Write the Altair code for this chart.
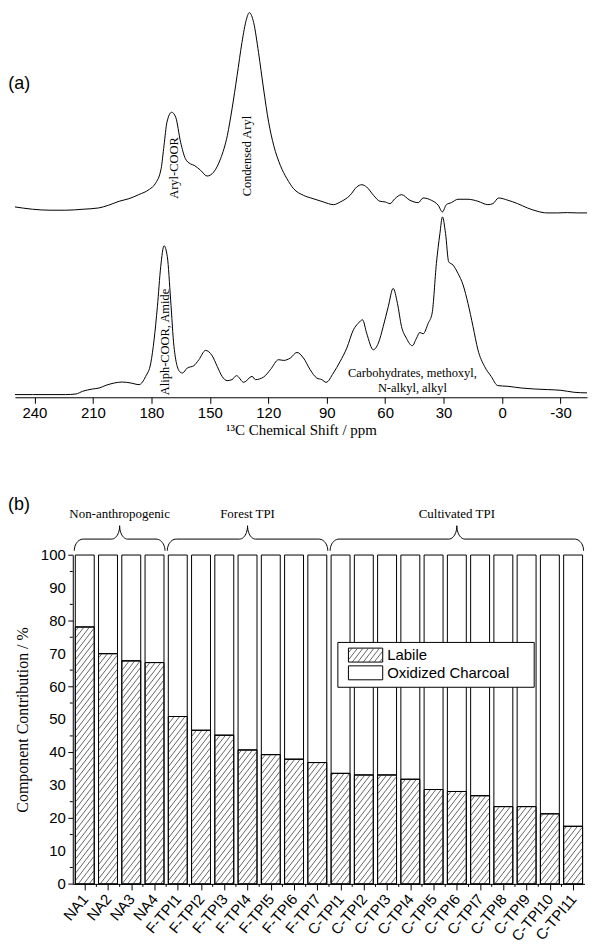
import json
import math
import altair as alt
import pandas as pd

# ---------------- Panel (a): 13C NMR spectra ----------------
ppm_top = [250, 241, 232, 224, 215, 207, 202, 196.5, 191.5, 186.5,
           181, 178, 175, 173.5, 172, 169.6, 167.5, 165, 162.5, 160,
           158, 154.7, 151.4, 148, 144.5, 141, 138.6, 136, 133.5, 131.2,
           129.7, 127.5, 125, 122.4, 119.8, 117.2, 113.8, 110.4, 107, 102,
           97, 91.7, 86.5, 83, 78, 74.6, 72, 69.5, 66, 62.7,
           60, 57.5, 55, 51.6, 47.3, 43, 40.5, 36.3, 32.8, 30.6,
           28.6, 26, 22.6, 17.5, 12.4, 7.3, 4.7, 1.8, -3, -8,
           -13, -18, -23, -28.5, -33.5, -38.7, -43.6]
int_top = [7, 4.7, 3.7, 3.7, 4.7, 6, 8.7, 12.7, 15.3, 19.3,
           24.7, 30.3, 45.3, 68.7, 92, 102, 97, 72, 55.3, 50.3,
           48.7, 43.7, 38, 42, 55.3, 78.7, 105.3, 138.7, 172, 195.3,
           202, 192, 162, 125.3, 92, 68.7, 48.7, 35.3, 25.3, 18.7,
           15.3, 12, 9.3, 12, 18.7, 27, 29.3, 27, 18.7, 12.7,
           12, 10.3, 15.3, 19.3, 13.7, 11.3, 16, 13.7, 8.7, 2,
           9.3, 11.3, 14.7, 14.7, 12.7, 9.3, 10.3, 16, 13.7, 10.3,
           6, 2.7, 1, 1, 1.3, 1, 1]
ppm_bottom = [250, 241, 232, 224, 218.7, 215.3, 210.2, 206.8, 203.3, 199.1,
              194.8, 190.5, 186.3, 182.9, 180.3, 178.6, 176.9, 175.2, 173.5, 171.8,
              170.1, 168.4, 165.6, 164.1, 161.6, 158.2, 155.6, 152.2, 148.8, 146.2,
              143.7, 141.1, 138.6, 136.3, 132.6, 128.3, 126.6, 122.4, 118.9, 114.7,
              112.1, 108.7, 105.3, 101.9, 98.5, 95.1, 92.5, 90.3, 86.6, 83.1,
              79.7, 76.3, 73.8, 71.6, 69.5, 66.1, 63.5, 61, 58.4, 55.9,
              53.7, 51.6, 49.1, 46.1, 43.9, 42.2, 40.5, 37.9, 35.9, 33.7,
              31.9, 30.6, 29, 27.4, 25.2, 22.6, 20, 17.5, 14.9, 12.4,
              9, 5.6, 2.2, -3, -9.8, -16.6, -23.4, -30.2, -37, -43.6]
int_bottom = [2.7, 2.7, 2.7, 2.7, 3.3, 6, 8.3, 9.3, 12, 14.3,
              15.3, 14.3, 12.7, 21, 34.3, 57.7, 91, 131, 152, 141,
              97.7, 51, 26, 24.3, 29.3, 31.7, 37.7, 47, 41.7, 31,
              21, 16.7, 17.7, 21.7, 15, 21, 17.7, 20.3, 27.7, 37.7,
              37, 39.3, 45, 39.3, 27.7, 19.3, 17.7, 15, 24.3, 36,
              49.3, 67.7, 74.3, 77.7, 64.3, 47.7, 54.3, 71, 91, 109.3,
              94.3, 71, 59.3, 51.7, 59.3, 65, 63.7, 74.3, 84.3, 134.3,
              164.3, 181, 164.3, 136, 132.7, 124.3, 112.7, 94.3, 71, 47.7,
              31, 21, 11.7, 11, 9.3, 8.3, 7.7, 7, 5, 4.4]
TOP_OFFSET = 184  # vertical stacking offset of the upper spectrum

peak_labels = ["Aryl-COOR", "Condensed Aryl", "Aliph-COOR, Amide"]
peak_label_ppm = [168.4, 130.9, 173.0]
peak_label_int = [230, 242, 55.5]
region_label = "Carbohydrates, methoxyl,\nN-alkyl, alkyl"
region_label_ppm = [46]
region_label_int = [24.5]
x_ticks_a = list(range(240, -44, -15))

# ---------------- Panel (b): component contributions ----------------
samples = ["NA1", "NA2", "NA3", "NA4",
           "F-TPI1", "F-TPI2", "F-TPI3", "F-TPI4", "F-TPI5", "F-TPI6", "F-TPI7",
           "C-TPI1", "C-TPI2", "C-TPI3", "C-TPI4", "C-TPI5", "C-TPI6", "C-TPI7",
           "C-TPI8", "C-TPI9", "C-TPI10", "C-TPI11"]
labile = [78.1, 70.0, 67.8, 67.3,
          50.9, 46.7, 45.2, 40.7, 39.3, 37.9, 36.9,
          33.6, 33.1, 33.1, 31.8, 28.7, 28.1, 26.8, 23.5, 23.5, 21.3, 17.5]
series = ["Labile", "Oxidized Charcoal"]
groups = ["Non-anthropogenic", "Forest TPI", "Cultivated TPI"]
group_first = [0, 4, 11]
group_last = [3, 10, 21]
y_ticks_b = list(range(0, 101, 10))
y_minor_b = list(range(5, 100, 10))

SERIF = "Liberation Serif"
SANS = "Liberation Sans"

# whole figure is one plot area; each panel gets its own pixel ranges
W, H = 581, 930

# ================= Panel (a) =================
A_X0, A_X1 = 7, 581          # pixel span of the ppm axis
A_AXIS_Y = 388               # pixel row of the ppm axis
xa = alt.Scale(domain=[250, -43.6], range=[A_X0, A_X1], nice=False, zero=False)
ya = alt.Scale(domain=[0, A_AXIS_Y], range=[A_AXIS_Y, 0], nice=False, zero=False)

spec = pd.concat([
    pd.DataFrame({"ppm": ppm_top, "intensity": int_top, "spectrum": "upper", "off": TOP_OFFSET}),
    pd.DataFrame({"ppm": ppm_bottom, "intensity": int_bottom, "spectrum": "lower", "off": 0}),
], ignore_index=True)
spec["y"] = spec["intensity"] + spec["off"]
spec["o"] = range(len(spec))

axis_a = alt.Axis(values=x_ticks_a, orient="bottom", offset=A_AXIS_Y - H,
                  labelExpr="datum.value % 30 === 0 ? toString(datum.value) : ''",
                  title="\u00b9\u00b3C Chemical Shift / ppm", titleFont=SERIF, titleFontSize=15,
                  titleFontWeight="normal", titleColor="black", titlePadding=2,
                  labelFont=SANS, labelFontSize=15, labelColor="black", labelPadding=2,
                  tickSize=6, tickColor="black", domainColor="black", grid=False,
                  labelFlush=False, labelOverlap=False)

spectra = alt.Chart(spec).mark_line(color="black", strokeWidth=1, interpolate="monotone").encode(
    x=alt.X("ppm:Q", scale=xa, axis=axis_a),
    y=alt.Y("y:Q", scale=ya, axis=None),
    detail="spectrum:N",
    order="o:Q",
)

peaks_df = pd.DataFrame({"ppm": peak_label_ppm, "y": peak_label_int, "t": peak_labels})
peak_text = alt.Chart(peaks_df).mark_text(angle=270, font=SERIF, fontSize=12.5, color="black",
                                          align="center", baseline="middle").encode(
    x=alt.X("ppm:Q", scale=xa), y=alt.Y("y:Q", scale=ya), text="t:N")

region_df = pd.DataFrame({"ppm": region_label_ppm, "y": region_label_int, "t": [region_label]})
region_text = alt.Chart(region_df).mark_text(font=SERIF, fontSize=12.5, color="black", align="center",
                                             baseline="middle", lineBreak="\n", lineHeight=15).encode(
    x=alt.X("ppm:Q", scale=xa), y=alt.Y("y:Q", scale=ya), text="t:N")

tag_a = alt.Chart(pd.DataFrame({"t": ["(a)"]})).mark_text(
    font=SANS, fontSize=18, color="black", align="left", baseline="middle").encode(
    x=alt.value(0.3), y=alt.value(73.5), text="t:N")

layer_a = alt.layer(spectra, peak_text, region_text, tag_a)

# ================= Panel (b) =================
B_X0, B_W = 65, 513.5        # plot left and width (px)
B_Y0, B_H = 546.3, 330       # plot top and height (px)
XB = [-0.515, 21.49]
PX_X = B_W / (XB[1] - XB[0])
PX_Y = B_H / 100.0
HW = 9.5 / PX_X
xb = alt.Scale(domain=XB, range=[B_X0, B_X0 + B_W], nice=False, zero=False)
yb = alt.Scale(domain=[0, 100], range=[B_Y0 + B_H, B_Y0], nice=False, zero=False)

n = len(samples)
bars = pd.DataFrame({"i": range(n), "sample": samples, "lab": labile})
bars["x"] = bars["i"] - HW
bars["x2"] = bars["i"] + HW
bars["y"] = 0.0
bars["y2"] = bars["lab"]
bars_ox = bars.copy()
bars_ox["y"] = bars["lab"]
bars_ox["y2"] = 100.0

HATCH_GAP = 5.5
HATCH_K = 1.3


def hatch(x0, x1, h):
    segs = []
    lo = math.floor((x0 - h / HATCH_K) / HATCH_GAP) - 1
    hi = math.ceil(x1 / HATCH_GAP) + 1
    for k in range(lo, hi + 1):
        c = k * HATCH_GAP
        xs = max(x0, c)
        xe = min(x1, c + h / HATCH_K)
        if xe - xs < 0.4:
            continue
        segs.append((xs, HATCH_K * (xs - c), xe, HATCH_K * (xe - c)))
    return segs


rows = []
for i, v in enumerate(labile):
    px0 = (i - HW - XB[0]) * PX_X + 0.5
    px1 = (i + HW - XB[0]) * PX_X - 0.5
    for (a, b, c, d) in hatch(px0, px1, v * PX_Y - 0.5):
        rows.append({"x": a / PX_X + XB[0], "y": b / PX_Y, "x2": c / PX_X + XB[0], "y2": d / PX_Y})
hatch_df = pd.DataFrame(rows)

axis_bx = alt.Axis(values=list(range(n)), tickCount=n, orient="bottom", offset=B_Y0 + B_H - H,
                   labelExpr=json.dumps(samples) + "[datum.value]",
                   title="", labelAngle=-50, labelAlign="right", labelBaseline="middle",
                   labelFont=SANS, labelFontSize=15, labelColor="black", labelPadding=6,
                   tickSize=6, tickColor="black", domainColor="black", grid=False,
                   labelOverlap=False, labelFlush=False)
axis_by = alt.Axis(values=y_ticks_b, tickCount=10, orient="left", offset=-B_X0, labels=False,
                   title="Component Contribution / %", titleFont=SERIF,
                   titleFontSize=16, titleFontWeight="normal", titleColor="black", titlePadding=37,
                   tickSize=5, tickColor="black", domainColor="black", grid=False)


def XQ(f):
    return alt.X(f, scale=xb)


def YQ(f):
    return alt.Y(f, scale=yb)


rect_ox = alt.Chart(bars_ox).mark_rect(fill="white", stroke="black", strokeWidth=1).encode(
    x=alt.X("x:Q", scale=xb, axis=axis_bx), x2="x2:Q",
    y=alt.Y("y:Q", scale=yb, axis=axis_by), y2="y2:Q")
rect_lab = alt.Chart(bars).mark_rect(fill="white", stroke="black", strokeWidth=1).encode(
    x=XQ("x:Q"), x2="x2:Q", y=YQ("y:Q"), y2="y2:Q")
hatch_lines = alt.Chart(hatch_df).mark_rule(color="#222222", strokeWidth=0.7).encode(
    x=XQ("x:Q"), x2="x2:Q", y=YQ("y:Q"), y2="y2:Q")
rect_line = alt.Chart(bars).mark_rect(fill=None, stroke="black", strokeWidth=1).encode(
    x=XQ("x:Q"), x2="x2:Q", y=YQ("y:Q"), y2="y2:Q")

minor_y = alt.Chart(pd.DataFrame({"y": y_minor_b})).mark_rule(color="black", strokeWidth=1).encode(
    y=YQ("y:Q"), x=alt.value(B_X0), x2=alt.value(B_X0 - 3))
minor_x = alt.Chart(pd.DataFrame({"x": [k + 0.5 for k in range(n - 1)]})).mark_rule(
    color="black", strokeWidth=1).encode(
    x=XQ("x:Q"), y=alt.value(B_Y0 + B_H), y2=alt.value(B_Y0 + B_H + 3))

ylab_df = pd.DataFrame({"y": y_ticks_b, "t": [str(v) for v in y_ticks_b]})
y_labels = alt.Chart(ylab_df).mark_text(font=SANS, fontSize=15, color="black", align="right",
                                        baseline="middle").encode(
    y=YQ("y:Q"), x=alt.value(B_X0 - 7), text="t:N")

# legend (geometry in px relative to the bar plot, converted to data units)
LEG_BOX = (266, 87.7, 463, 132.7)
SW_X = (276.6, 311.0)
ROW_Y = [100.4, 118.2]
SW_H = 14


def dx(p):
    return p / PX_X + XB[0]


def dy(p):
    return 100 - p / PX_Y


leg_box = alt.Chart(pd.DataFrame({"x": [dx(LEG_BOX[0])], "x2": [dx(LEG_BOX[2])],
                                  "y": [dy(LEG_BOX[3])], "y2": [dy(LEG_BOX[1])]})).mark_rect(
    fill="white", stroke="black", strokeWidth=1).encode(
    x=XQ("x:Q"), x2="x2:Q", y=YQ("y:Q"), y2="y2:Q")
leg_sw = pd.DataFrame({"series": series,
                       "x": [dx(SW_X[0])] * 2, "x2": [dx(SW_X[1])] * 2,
                       "y": [dy(r + SW_H / 2) for r in ROW_Y], "y2": [dy(r - SW_H / 2) for r in ROW_Y],
                       "tx": [dx(SW_X[1] + 4.5)] * 2, "ty": [dy(r) for r in ROW_Y]})
leg_swatch = alt.Chart(leg_sw).mark_rect(fill="white", stroke="black", strokeWidth=1).encode(
    x=XQ("x:Q"), x2="x2:Q", y=YQ("y:Q"), y2="y2:Q")
lrows = []
bottom_px = ROW_Y[0] + SW_H / 2
for (a, b, c, d) in hatch(SW_X[0] + 0.5, SW_X[1] - 0.5, SW_H - 0.5):
    lrows.append({"x": dx(a), "y": dy(bottom_px - b), "x2": dx(c), "y2": dy(bottom_px - d)})
leg_hatch = alt.Chart(pd.DataFrame(lrows)).mark_rule(color="#222222", strokeWidth=0.7).encode(
    x=XQ("x:Q"), x2="x2:Q", y=YQ("y:Q"), y2="y2:Q")
leg_text = alt.Chart(leg_sw).mark_text(font=SANS, fontSize=15, color="black", align="left",
                                       baseline="middle").encode(
    x=XQ("tx:Q"), y=YQ("ty:Q"), text="series:N")

# group braces
BR_BASE, BR_SH, BR_CUSP = 101.3, 104.85, 108.9
R_END = 9 / PX_X
R_MID = 8 / PX_X
brows = []
for g, a0, a1 in zip(groups, group_first, group_last):
    xa0, xb0, m = a0 - 0.45, a1 + 0.45, (a0 + a1) / 2
    pts = []
    steps = 12
    for s in range(steps + 1):
        t = s / steps * math.pi / 2
        pts.append((xa0 + R_END * (1 - math.cos(t)), BR_BASE + (BR_SH - BR_BASE) * math.sin(t)))
    for s in range(steps + 1):
        t = s / steps * math.pi / 2
        pts.append((m - R_MID + R_MID * math.sin(t), BR_SH + (BR_CUSP - BR_SH) * (1 - math.cos(t))))
    for s in range(1, steps + 1):
        t = s / steps * math.pi / 2
        pts.append((m + R_MID * (1 - math.cos(t)), BR_CUSP - (BR_CUSP - BR_SH) * math.sin(t)))
    for s in range(steps + 1):
        t = s / steps * math.pi / 2
        pts.append((xb0 - R_END + R_END * math.sin(t), BR_SH - (BR_SH - BR_BASE) * (1 - math.cos(t))))
    for k, (px, py) in enumerate(pts):
        brows.append({"g": g, "k": k, "x": px, "y": py})
braces = alt.Chart(pd.DataFrame(brows)).mark_line(color="black", strokeWidth=1).encode(
    x=XQ("x:Q"), y=YQ("y:Q"), detail="g:N", order="k:Q")
glab = pd.DataFrame({"g": groups, "x": [(a + b) / 2 for a, b in zip(group_first, group_last)],
                     "y": [112.5] * 3})
group_text = alt.Chart(glab).mark_text(font=SERIF, fontSize=13, color="black", baseline="middle").encode(
    x=XQ("x:Q"), y=YQ("y:Q"), text="g:N")

tag_b = alt.Chart(pd.DataFrame({"t": ["(b)"]})).mark_text(
    font=SANS, fontSize=18, color="black", align="left", baseline="middle").encode(
    x=alt.value(0), y=alt.value(496), text="t:N")

layer_b = alt.layer(rect_ox, rect_lab, hatch_lines, rect_line, minor_y, minor_x, y_labels,
                    leg_box, leg_swatch, leg_hatch, leg_text, braces, group_text, tag_b)

chart = alt.layer(layer_a, layer_b).resolve_scale(x="independent", y="independent").properties(
    width=W, height=H, padding=0
).configure_view(stroke=None).configure_axis(labelOverlap=False)
chart.save("out.html", embed_options={"renderer": "svg", "actions": False})
